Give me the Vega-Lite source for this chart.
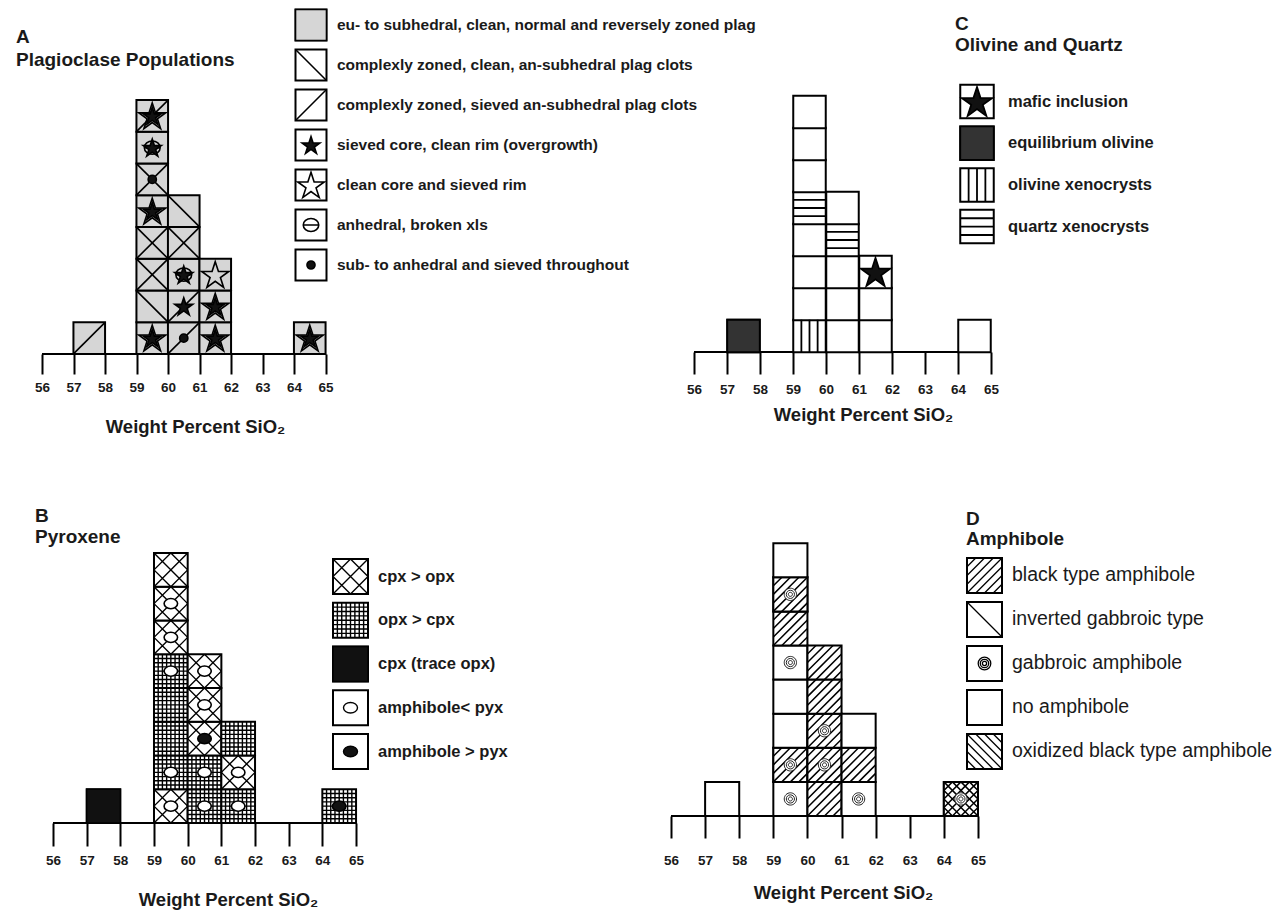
{
  "$schema": "https://vega.github.io/schema/vega-lite/v6.json",
  "background": "white",
  "padding": {"left": 16, "top": 5, "right": 5, "bottom": 5},
  "autosize": {"type": "pad"},
  "bounds": "flush",
  "columns": 2,
  "spacing": {"row": 182, "column": 307},
  "resolve": {"scale": {"shape": "independent", "fill": "independent"}},
  "config": {"view": {"stroke": null}, "font": "Liberation Sans"},
  "datasets": {
    "plag": [
      {"sio2": 57.5, "level": 1, "pop": "eu"},
      {"sio2": 59.5, "level": 1, "pop": "eu"},
      {"sio2": 59.5, "level": 2, "pop": "eu"},
      {"sio2": 59.5, "level": 3, "pop": "eu"},
      {"sio2": 59.5, "level": 4, "pop": "eu"},
      {"sio2": 59.5, "level": 5, "pop": "eu"},
      {"sio2": 59.5, "level": 6, "pop": "eu"},
      {"sio2": 59.5, "level": 7, "pop": "eu"},
      {"sio2": 59.5, "level": 8, "pop": "eu"},
      {"sio2": 60.5, "level": 1, "pop": "eu"},
      {"sio2": 60.5, "level": 2, "pop": "eu"},
      {"sio2": 60.5, "level": 3, "pop": "eu"},
      {"sio2": 60.5, "level": 4, "pop": "eu"},
      {"sio2": 60.5, "level": 5, "pop": "eu"},
      {"sio2": 61.5, "level": 1, "pop": "eu"},
      {"sio2": 61.5, "level": 2, "pop": "eu"},
      {"sio2": 61.5, "level": 3, "pop": "eu"},
      {"sio2": 64.5, "level": 1, "pop": "eu"},
      {"sio2": 57.5, "level": 1, "pop": "sieved-clot"},
      {"sio2": 59.5, "level": 1, "pop": "sieved-rim"},
      {"sio2": 59.5, "level": 1, "pop": "sieved-core"},
      {"sio2": 59.5, "level": 2, "pop": "clean-clot"},
      {"sio2": 59.5, "level": 3, "pop": "clean-clot"},
      {"sio2": 59.5, "level": 3, "pop": "sieved-clot"},
      {"sio2": 59.5, "level": 4, "pop": "clean-clot"},
      {"sio2": 59.5, "level": 4, "pop": "sieved-clot"},
      {"sio2": 59.5, "level": 5, "pop": "sieved-rim"},
      {"sio2": 59.5, "level": 5, "pop": "sieved-core"},
      {"sio2": 59.5, "level": 6, "pop": "clean-clot"},
      {"sio2": 59.5, "level": 6, "pop": "sieved-clot"},
      {"sio2": 59.5, "level": 6, "pop": "sieved-all"},
      {"sio2": 59.5, "level": 7, "pop": "broken"},
      {"sio2": 59.5, "level": 7, "pop": "sieved-core"},
      {"sio2": 59.5, "level": 8, "pop": "sieved-clot"},
      {"sio2": 59.5, "level": 8, "pop": "sieved-rim"},
      {"sio2": 59.5, "level": 8, "pop": "sieved-core"},
      {"sio2": 60.5, "level": 1, "pop": "sieved-clot"},
      {"sio2": 60.5, "level": 1, "pop": "sieved-all"},
      {"sio2": 60.5, "level": 2, "pop": "sieved-clot"},
      {"sio2": 60.5, "level": 2, "pop": "sieved-core"},
      {"sio2": 60.5, "level": 3, "pop": "broken"},
      {"sio2": 60.5, "level": 3, "pop": "sieved-core"},
      {"sio2": 60.5, "level": 4, "pop": "clean-clot"},
      {"sio2": 60.5, "level": 4, "pop": "sieved-clot"},
      {"sio2": 60.5, "level": 5, "pop": "clean-clot"},
      {"sio2": 61.5, "level": 1, "pop": "sieved-rim"},
      {"sio2": 61.5, "level": 1, "pop": "sieved-core"},
      {"sio2": 61.5, "level": 2, "pop": "sieved-rim"},
      {"sio2": 61.5, "level": 2, "pop": "sieved-core"},
      {"sio2": 61.5, "level": 3, "pop": "sieved-rim"},
      {"sio2": 64.5, "level": 1, "pop": "sieved-rim"},
      {"sio2": 64.5, "level": 1, "pop": "sieved-core"}
    ],
    "plagLegend": [
      {"i": 1, "key": "eu", "label": "eu- to subhedral, clean, normal and reversely zoned plag"},
      {"i": 2, "key": "clean-clot", "label": "complexly zoned, clean, an-subhedral plag clots"},
      {"i": 3, "key": "sieved-clot", "label": "complexly zoned, sieved an-subhedral plag clots"},
      {"i": 4, "key": "sieved-core", "label": "sieved core, clean rim (overgrowth)"},
      {"i": 5, "key": "sieved-rim", "label": "clean core and sieved rim"},
      {"i": 6, "key": "broken", "label": "anhedral, broken xls"},
      {"i": 7, "key": "sieved-all", "label": "sub- to anhedral and sieved throughout"}
    ],
    "olq": [
      {"sio2": 57.5, "level": 1, "phase": "eqol"},
      {"sio2": 59.5, "level": 1, "phase": "olxeno"},
      {"sio2": 59.5, "level": 2, "phase": "none"},
      {"sio2": 59.5, "level": 3, "phase": "none"},
      {"sio2": 59.5, "level": 4, "phase": "none"},
      {"sio2": 59.5, "level": 5, "phase": "qzxeno"},
      {"sio2": 59.5, "level": 6, "phase": "none"},
      {"sio2": 59.5, "level": 7, "phase": "none"},
      {"sio2": 59.5, "level": 8, "phase": "none"},
      {"sio2": 60.5, "level": 1, "phase": "none"},
      {"sio2": 60.5, "level": 2, "phase": "none"},
      {"sio2": 60.5, "level": 3, "phase": "none"},
      {"sio2": 60.5, "level": 4, "phase": "qzxeno"},
      {"sio2": 60.5, "level": 5, "phase": "none"},
      {"sio2": 61.5, "level": 1, "phase": "none"},
      {"sio2": 61.5, "level": 2, "phase": "none"},
      {"sio2": 61.5, "level": 3, "phase": "mafic"},
      {"sio2": 64.5, "level": 1, "phase": "none"}
    ],
    "olqLegend": [
      {"i": 1, "key": "mafic", "label": "mafic inclusion"},
      {"i": 2, "key": "eqol", "label": "equilibrium olivine"},
      {"i": 3, "key": "olxeno", "label": "olivine xenocrysts"},
      {"i": 4, "key": "qzxeno", "label": "quartz xenocrysts"}
    ],
    "pyx": [
      {"sio2": 57.5, "level": 1, "pyx": "cpx", "amph": "none"},
      {"sio2": 59.5, "level": 1, "pyx": "cpx>opx", "amph": "amph<pyx"},
      {"sio2": 59.5, "level": 2, "pyx": "opx>cpx", "amph": "amph<pyx"},
      {"sio2": 59.5, "level": 3, "pyx": "opx>cpx", "amph": "none"},
      {"sio2": 59.5, "level": 4, "pyx": "opx>cpx", "amph": "none"},
      {"sio2": 59.5, "level": 5, "pyx": "opx>cpx", "amph": "amph<pyx"},
      {"sio2": 59.5, "level": 6, "pyx": "cpx>opx", "amph": "amph<pyx"},
      {"sio2": 59.5, "level": 7, "pyx": "cpx>opx", "amph": "amph<pyx"},
      {"sio2": 59.5, "level": 8, "pyx": "cpx>opx", "amph": "none"},
      {"sio2": 60.5, "level": 1, "pyx": "opx>cpx", "amph": "amph<pyx"},
      {"sio2": 60.5, "level": 2, "pyx": "opx>cpx", "amph": "amph<pyx"},
      {"sio2": 60.5, "level": 3, "pyx": "cpx>opx", "amph": "amph>pyx"},
      {"sio2": 60.5, "level": 4, "pyx": "cpx>opx", "amph": "amph<pyx"},
      {"sio2": 60.5, "level": 5, "pyx": "cpx>opx", "amph": "amph<pyx"},
      {"sio2": 61.5, "level": 1, "pyx": "opx>cpx", "amph": "amph<pyx"},
      {"sio2": 61.5, "level": 2, "pyx": "cpx>opx", "amph": "amph<pyx"},
      {"sio2": 61.5, "level": 3, "pyx": "opx>cpx", "amph": "none"},
      {"sio2": 64.5, "level": 1, "pyx": "opx>cpx", "amph": "amph>pyx"}
    ],
    "pyxLegend": [
      {"i": 1, "key": "cpx>opx", "label": "cpx > opx"},
      {"i": 2, "key": "opx>cpx", "label": "opx > cpx"},
      {"i": 3, "key": "cpx", "label": "cpx (trace opx)"},
      {"i": 4, "key": "amph<pyx", "label": "amphibole< pyx"},
      {"i": 5, "key": "amph>pyx", "label": "amphibole > pyx"}
    ],
    "amph": [
      {"sio2": 57.5, "level": 1, "type": "none"},
      {"sio2": 59.5, "level": 1, "type": "gabbroic"},
      {"sio2": 59.5, "level": 2, "type": "black"},
      {"sio2": 59.5, "level": 2, "type": "gabbroic"},
      {"sio2": 59.5, "level": 3, "type": "none"},
      {"sio2": 59.5, "level": 4, "type": "none"},
      {"sio2": 59.5, "level": 5, "type": "gabbroic"},
      {"sio2": 59.5, "level": 6, "type": "black"},
      {"sio2": 59.5, "level": 7, "type": "black"},
      {"sio2": 59.5, "level": 7, "type": "gabbroic"},
      {"sio2": 59.5, "level": 8, "type": "none"},
      {"sio2": 60.5, "level": 1, "type": "black"},
      {"sio2": 60.5, "level": 2, "type": "black"},
      {"sio2": 60.5, "level": 2, "type": "gabbroic"},
      {"sio2": 60.5, "level": 3, "type": "black"},
      {"sio2": 60.5, "level": 3, "type": "gabbroic"},
      {"sio2": 60.5, "level": 4, "type": "black"},
      {"sio2": 60.5, "level": 5, "type": "black"},
      {"sio2": 61.5, "level": 1, "type": "gabbroic"},
      {"sio2": 61.5, "level": 2, "type": "black"},
      {"sio2": 61.5, "level": 3, "type": "none"},
      {"sio2": 64.5, "level": 1, "type": "black"},
      {"sio2": 64.5, "level": 1, "type": "oxidized"},
      {"sio2": 64.5, "level": 1, "type": "gabbroic"}
    ],
    "amphLegend": [
      {"i": 1, "key": "black", "label": "black type amphibole"},
      {"i": 2, "key": "inverted", "label": "inverted gabbroic type"},
      {"i": 3, "key": "gabbroic", "label": " gabbroic amphibole"},
      {"i": 4, "key": "none", "label": "no amphibole"},
      {"i": 5, "key": "oxidized", "label": "oxidized black type amphibole"}
    ]
  },
  "concat": [
    {
      "width": 290,
      "height": 263,
      "title": {"text": ["A", "Plagioclase Populations"], "anchor": "start", "frame": "group", "dx": -24, "offset": -83, "baseline": "bottom", "lineHeight": 23, "fontSize": 19, "font": "Liberation Sans", "fontWeight": "bold", "color": "#1a1a1a"},
      "resolve": {"scale": {"x": "independent", "y": "independent"}},
      "layer": [
        {
          "data": {"name": "plag"},
          "encoding": {
            "x": {"field": "sio2", "type": "quantitative", "scale": {"domain": [55.9365, 65.1428], "nice": false, "zero": false},
              "axis": {"values": [56, 57, 58, 59, 60, 61, 62, 63, 64, 65], "format": "d", "domain": false, "grid": false, "tickSize": 20, "tickWidth": 2, "tickColor": "black", "labelFont": "Liberation Sans", "labelFontSize": 13.5, "labelFontWeight": "bold", "labelColor": "#1a1a1a", "labelPadding": 6, "labelFlush": false, "labelOverlap": false, "title": "Weight Percent SiO₂", "titleFont": "Liberation Sans", "titleFontSize": 18.5, "titleFontWeight": "bold", "titleColor": "#1a1a1a", "titleX": 155, "titleY": 78, "titleBaseline": "alphabetic"}},
            "y": {"field": "level", "type": "quantitative", "scale": {"domain": [0.5, 8.7835], "nice": false, "zero": false}, "axis": null}
          },
          "layer": [
            {"mark": {"type": "rule", "strokeWidth": 2, "color": "black"}, "encoding": {"x": {"datum": 56}, "x2": {"datum": 65}, "y": {"datum": 0.5}}},
            {
              "transform": [{"filter": "datum.pop === 'eu'"}],
              "mark": {"type": "point", "filled": false, "opacity": 1, "stroke": "black", "strokeWidth": 2},
              "encoding": {
                "shape": {"field": "pop", "type": "nominal", "legend": null, "scale": {"domain": ["eu", "clean-clot", "sieved-clot", "sieved-core", "sieved-rim", "broken", "sieved-all"], "range": ["M-1,-1L1,-1L1,1L-1,1Z", "M-1,-1L1,1", "M-1,1L1,-1", "M0,-0.543L0.135,-0.128L0.571,-0.128L0.218,0.128L0.353,0.542L0,0.286L-0.353,0.542L-0.218,0.128L-0.571,-0.128L-0.135,-0.128Z", "M0,-0.82L0.202,-0.198L0.856,-0.198L0.327,0.186L0.529,0.808L0,0.424L-0.529,0.808L-0.327,0.186L-0.856,-0.198L-0.202,-0.198Z", "M-0.5,0A0.5,0.42 0 1,1 0.5,0A0.5,0.42 0 1,1 -0.5,0ZM-0.5,0L0.5,0", "M-0.26,0A0.26,0.26 0 1,1 0.26,0A0.26,0.26 0 1,1 -0.26,0Z"]}},
                "fill": {"field": "pop", "type": "nominal", "legend": null, "scale": {"domain": ["eu", "clean-clot", "sieved-clot", "sieved-core", "sieved-rim", "broken", "sieved-all"], "range": ["#d6d6d6", "transparent", "transparent", "#111111", "transparent", "transparent", "#111111"]}},
                "size": {"value": 1000}
              }
            },
            {
              "transform": [{"filter": "datum.pop !== 'eu'"}],
              "mark": {"type": "point", "filled": false, "opacity": 1, "stroke": "black", "strokeWidth": 1.6},
              "encoding": {
                "shape": {"field": "pop", "type": "nominal", "legend": null, "scale": {"domain": ["eu", "clean-clot", "sieved-clot", "sieved-core", "sieved-rim", "broken", "sieved-all"], "range": ["M-1,-1L1,-1L1,1L-1,1Z", "M-1,-1L1,1", "M-1,1L1,-1", "M0,-0.543L0.135,-0.128L0.571,-0.128L0.218,0.128L0.353,0.542L0,0.286L-0.353,0.542L-0.218,0.128L-0.571,-0.128L-0.135,-0.128Z", "M0,-0.82L0.202,-0.198L0.856,-0.198L0.327,0.186L0.529,0.808L0,0.424L-0.529,0.808L-0.327,0.186L-0.856,-0.198L-0.202,-0.198Z", "M-0.5,0A0.5,0.42 0 1,1 0.5,0A0.5,0.42 0 1,1 -0.5,0ZM-0.5,0L0.5,0", "M-0.26,0A0.26,0.26 0 1,1 0.26,0A0.26,0.26 0 1,1 -0.26,0Z"]}},
                "fill": {"field": "pop", "type": "nominal", "legend": null, "scale": {"domain": ["eu", "clean-clot", "sieved-clot", "sieved-core", "sieved-rim", "broken", "sieved-all"], "range": ["#d6d6d6", "transparent", "transparent", "#111111", "transparent", "transparent", "#111111"]}},
                "size": {"value": 1000}
              }
            }
          ]
        },
        {
          "data": {"name": "plagLegend"},
          "encoding": {
            "x": {"datum": 0, "type": "quantitative", "scale": {"domain": [-271, 19], "nice": false, "zero": false}, "axis": null},
            "y": {"field": "i", "type": "quantitative", "scale": {"domain": [2.65, 9.225], "reverse": true, "nice": false, "zero": false}, "axis": null}
          },
          "layer": [
            {"mark": {"type": "point", "shape": "square", "filled": false, "fill": "white", "stroke": "black", "strokeWidth": 2, "opacity": 1, "size": 961}},
            {
              "mark": {"type": "point", "filled": false, "opacity": 1, "stroke": "black", "strokeWidth": 1.6},
              "encoding": {
                "shape": {"field": "key", "type": "nominal", "legend": null, "scale": {"domain": ["eu", "clean-clot", "sieved-clot", "sieved-core", "sieved-rim", "broken", "sieved-all"], "range": ["M-1,-1L1,-1L1,1L-1,1Z", "M-1,-1L1,1", "M-1,1L1,-1", "M0,-0.543L0.135,-0.128L0.571,-0.128L0.218,0.128L0.353,0.542L0,0.286L-0.353,0.542L-0.218,0.128L-0.571,-0.128L-0.135,-0.128Z", "M0,-0.82L0.202,-0.198L0.856,-0.198L0.327,0.186L0.529,0.808L0,0.424L-0.529,0.808L-0.327,0.186L-0.856,-0.198L-0.202,-0.198Z", "M-0.5,0A0.5,0.42 0 1,1 0.5,0A0.5,0.42 0 1,1 -0.5,0ZM-0.5,0L0.5,0", "M-0.26,0A0.26,0.26 0 1,1 0.26,0A0.26,0.26 0 1,1 -0.26,0Z"]}},
                "fill": {"field": "key", "type": "nominal", "legend": null, "scale": {"domain": ["eu", "clean-clot", "sieved-clot", "sieved-core", "sieved-rim", "broken", "sieved-all"], "range": ["#d6d6d6", "transparent", "transparent", "#111111", "transparent", "transparent", "#111111"]}},
                "size": {"value": 961}
              }
            },
            {"mark": {"type": "text", "align": "left", "baseline": "middle", "dx": 26, "font": "Liberation Sans", "fontSize": 15.5, "fontWeight": "bold", "color": "#1a1a1a"}, "encoding": {"text": {"field": "label"}}}
          ]
        }
      ]
    },
    {
      "width": 330,
      "height": 261,
      "title": {"text": ["C", "Olivine and Quartz"], "anchor": "start", "frame": "group", "dx": 288, "offset": 7, "baseline": "bottom", "lineHeight": 21, "fontSize": 19, "font": "Liberation Sans", "fontWeight": "bold", "color": "#1a1a1a"},
      "resolve": {"scale": {"x": "independent", "y": "independent"}},
      "layer": [
        {
          "data": {"name": "olq"},
          "encoding": {
            "x": {"field": "sio2", "type": "quantitative", "scale": {"domain": [55.1818, 65.1818], "nice": false, "zero": false},
              "axis": {"values": [56, 57, 58, 59, 60, 61, 62, 63, 64, 65], "format": "d", "domain": false, "grid": false, "tickSize": 22, "tickWidth": 2, "tickColor": "black", "labelFont": "Liberation Sans", "labelFontSize": 13.5, "labelFontWeight": "bold", "labelColor": "#1a1a1a", "labelPadding": 8, "labelFlush": false, "labelOverlap": false, "title": "Weight Percent SiO₂", "titleFont": "Liberation Sans", "titleFontSize": 18.5, "titleFontWeight": "bold", "titleColor": "#1a1a1a", "titleX": 196, "titleY": 68, "titleBaseline": "alphabetic"}},
            "y": {"field": "level", "type": "quantitative", "scale": {"domain": [0.5, 8.65625], "nice": false, "zero": false}, "axis": null}
          },
          "layer": [
            {"mark": {"type": "rule", "strokeWidth": 2, "color": "black"}, "encoding": {"x": {"datum": 56}, "x2": {"datum": 65}, "y": {"datum": 0.5}}},
            {"mark": {"type": "point", "shape": "square", "filled": false, "fill": "white", "stroke": "black", "strokeWidth": 2, "opacity": 1, "size": 1056}},
            {
              "transform": [{"filter": "datum.phase !== 'none'"}],
              "mark": {"type": "point", "filled": false, "opacity": 1, "stroke": "black", "strokeWidth": 1.8},
              "encoding": {
                "shape": {"field": "phase", "type": "nominal", "legend": null, "scale": {"domain": ["mafic", "eqol", "olxeno", "qzxeno"], "range": ["M0,-0.86L0.213,-0.204L0.904,-0.204L0.345,0.202L0.558,0.859L0,0.453L-0.558,0.859L-0.345,0.202L-0.904,-0.204L-0.213,-0.204Z", "M-1,-1L1,-1L1,1L-1,1Z", "M-0.5,-1L-0.5,1M0,-1L0,1M0.5,-1L0.5,1", "M-1,-0.5L1,-0.5M-1,0L1,0M-1,0.5L1,0.5"]}},
                "fill": {"field": "phase", "type": "nominal", "legend": null, "scale": {"domain": ["mafic", "eqol", "olxeno", "qzxeno"], "range": ["#111111", "#333333", "transparent", "transparent"]}},
                "size": {"value": 1056}
              }
            }
          ]
        },
        {
          "data": {"name": "olqLegend"},
          "encoding": {
            "x": {"datum": 0, "type": "quantitative", "scale": {"domain": [-310, 20], "nice": false, "zero": false}, "axis": null},
            "y": {"field": "i", "type": "quantitative", "scale": {"domain": [0.748, 7.007], "reverse": true, "nice": false, "zero": false}, "axis": null}
          },
          "layer": [
            {"mark": {"type": "point", "shape": "square", "filled": false, "fill": "white", "stroke": "black", "strokeWidth": 2, "opacity": 1, "size": 1122}},
            {
              "mark": {"type": "point", "filled": false, "opacity": 1, "stroke": "black", "strokeWidth": 1.8},
              "encoding": {
                "shape": {"field": "key", "type": "nominal", "legend": null, "scale": {"domain": ["mafic", "eqol", "olxeno", "qzxeno"], "range": ["M0,-0.86L0.213,-0.204L0.904,-0.204L0.345,0.202L0.558,0.859L0,0.453L-0.558,0.859L-0.345,0.202L-0.904,-0.204L-0.213,-0.204Z", "M-1,-1L1,-1L1,1L-1,1Z", "M-0.5,-1L-0.5,1M0,-1L0,1M0.5,-1L0.5,1", "M-1,-0.5L1,-0.5M-1,0L1,0M-1,0.5L1,0.5"]}},
                "fill": {"field": "key", "type": "nominal", "legend": null, "scale": {"domain": ["mafic", "eqol", "olxeno", "qzxeno"], "range": ["#111111", "#333333", "transparent", "transparent"]}},
                "size": {"value": 1122}
              }
            },
            {"mark": {"type": "text", "align": "left", "baseline": "middle", "dx": 31, "font": "Liberation Sans", "fontSize": 16.5, "fontWeight": "bold", "color": "#1a1a1a"}, "encoding": {"text": {"field": "label"}}}
          ]
        }
      ]
    },
    {
      "width": 320,
      "height": 287,
      "title": {"text": ["B", "Pyroxene"], "anchor": "start", "frame": "group", "dx": -5, "offset": -29.5, "baseline": "bottom", "lineHeight": 21, "fontSize": 19, "font": "Liberation Sans", "fontWeight": "bold", "color": "#1a1a1a"},
      "resolve": {"scale": {"x": "independent", "y": "independent"}},
      "layer": [
        {
          "data": {"name": "pyx"},
          "encoding": {
            "x": {"field": "sio2", "type": "quantitative", "scale": {"domain": [55.6139, 65.1179], "nice": false, "zero": false},
              "axis": {"values": [56, 57, 58, 59, 60, 61, 62, 63, 64, 65], "format": "d", "domain": false, "grid": false, "tickSize": 23, "tickWidth": 2, "tickColor": "black", "labelFont": "Liberation Sans", "labelFontSize": 13.5, "labelFontWeight": "bold", "labelColor": "#1a1a1a", "labelPadding": 7, "labelFlush": false, "labelOverlap": false, "title": "Weight Percent SiO₂", "titleFont": "Liberation Sans", "titleFontSize": 18.5, "titleFontWeight": "bold", "titleColor": "#1a1a1a", "titleX": 188, "titleY": 82, "titleBaseline": "alphabetic"}},
            "y": {"field": "level", "type": "quantitative", "scale": {"domain": [0.5, 9.0037], "nice": false, "zero": false}, "axis": null}
          },
          "layer": [
            {"mark": {"type": "rule", "strokeWidth": 2, "color": "black"}, "encoding": {"x": {"datum": 56}, "x2": {"datum": 65}, "y": {"datum": 0.5}}},
            {"mark": {"type": "point", "shape": "square", "filled": false, "fill": "white", "stroke": "black", "strokeWidth": 2, "opacity": 1, "size": 1136}},
            {
              "mark": {"type": "point", "filled": false, "opacity": 1, "stroke": "black", "strokeWidth": 1.4},
              "encoding": {
                "shape": {"field": "pyx", "type": "nominal", "legend": null, "scale": {"domain": ["cpx>opx", "opx>cpx", "cpx", "amph<pyx", "amph>pyx"], "range": ["M-1,-1L1,1M-1,0L0,1M0,-1L1,0M-1,1L1,-1M-1,0L0,-1M0,1L1,0", "M-0.75,-1L-0.75,1M-0.5,-1L-0.5,1M-0.25,-1L-0.25,1M0,-1L0,1M0.25,-1L0.25,1M0.5,-1L0.5,1M0.75,-1L0.75,1M-1,-0.75L1,-0.75M-1,-0.5L1,-0.5M-1,-0.25L1,-0.25M-1,0L1,0M-1,0.25L1,0.25M-1,0.5L1,0.5M-1,0.75L1,0.75", "M-1,-1L1,-1L1,1L-1,1Z", "M-0.4,0A0.4,0.3 0 1,1 0.4,0A0.4,0.3 0 1,1 -0.4,0Z", "M-0.4,0A0.4,0.3 0 1,1 0.4,0A0.4,0.3 0 1,1 -0.4,0Z"]}},
                "fill": {"field": "pyx", "type": "nominal", "legend": null, "scale": {"domain": ["cpx>opx", "opx>cpx", "cpx", "amph<pyx", "amph>pyx"], "range": ["transparent", "transparent", "#111111", "white", "#111111"]}},
                "size": {"value": 1136}
              }
            },
            {
              "transform": [{"filter": "datum.amph !== 'none'"}],
              "mark": {"type": "point", "filled": false, "opacity": 1, "stroke": "black", "strokeWidth": 1.6},
              "encoding": {
                "shape": {"field": "amph", "type": "nominal", "legend": null, "scale": {"domain": ["cpx>opx", "opx>cpx", "cpx", "amph<pyx", "amph>pyx"], "range": ["M-1,-1L1,1M-1,0L0,1M0,-1L1,0M-1,1L1,-1M-1,0L0,-1M0,1L1,0", "M-0.75,-1L-0.75,1M-0.5,-1L-0.5,1M-0.25,-1L-0.25,1M0,-1L0,1M0.25,-1L0.25,1M0.5,-1L0.5,1M0.75,-1L0.75,1M-1,-0.75L1,-0.75M-1,-0.5L1,-0.5M-1,-0.25L1,-0.25M-1,0L1,0M-1,0.25L1,0.25M-1,0.5L1,0.5M-1,0.75L1,0.75", "M-1,-1L1,-1L1,1L-1,1Z", "M-0.4,0A0.4,0.3 0 1,1 0.4,0A0.4,0.3 0 1,1 -0.4,0Z", "M-0.4,0A0.4,0.3 0 1,1 0.4,0A0.4,0.3 0 1,1 -0.4,0Z"]}},
                "fill": {"field": "amph", "type": "nominal", "legend": null, "scale": {"domain": ["cpx>opx", "opx>cpx", "cpx", "amph<pyx", "amph>pyx"], "range": ["transparent", "transparent", "#111111", "white", "#111111"]}},
                "size": {"value": 1136}
              }
            }
          ]
        },
        {
          "data": {"name": "pyxLegend"},
          "encoding": {
            "x": {"datum": 0, "type": "quantitative", "scale": {"domain": [-310.5, 9.5], "nice": false, "zero": false}, "axis": null},
            "y": {"field": "i", "type": "quantitative", "scale": {"domain": [0.0743, 6.634], "reverse": true, "nice": false, "zero": false}, "axis": null}
          },
          "layer": [
            {"mark": {"type": "point", "shape": "square", "filled": false, "fill": "white", "stroke": "black", "strokeWidth": 2, "opacity": 1, "size": 1225}},
            {
              "mark": {"type": "point", "filled": false, "opacity": 1, "stroke": "black", "strokeWidth": 1.4},
              "encoding": {
                "shape": {"field": "key", "type": "nominal", "legend": null, "scale": {"domain": ["cpx>opx", "opx>cpx", "cpx", "amph<pyx", "amph>pyx"], "range": ["M-1,-1L1,1M-1,0L0,1M0,-1L1,0M-1,1L1,-1M-1,0L0,-1M0,1L1,0", "M-0.75,-1L-0.75,1M-0.5,-1L-0.5,1M-0.25,-1L-0.25,1M0,-1L0,1M0.25,-1L0.25,1M0.5,-1L0.5,1M0.75,-1L0.75,1M-1,-0.75L1,-0.75M-1,-0.5L1,-0.5M-1,-0.25L1,-0.25M-1,0L1,0M-1,0.25L1,0.25M-1,0.5L1,0.5M-1,0.75L1,0.75", "M-1,-1L1,-1L1,1L-1,1Z", "M-0.4,0A0.4,0.3 0 1,1 0.4,0A0.4,0.3 0 1,1 -0.4,0Z", "M-0.4,0A0.4,0.3 0 1,1 0.4,0A0.4,0.3 0 1,1 -0.4,0Z"]}},
                "fill": {"field": "key", "type": "nominal", "legend": null, "scale": {"domain": ["cpx>opx", "opx>cpx", "cpx", "amph<pyx", "amph>pyx"], "range": ["transparent", "transparent", "#111111", "white", "#111111"]}},
                "size": {"value": 1225}
              }
            },
            {"mark": {"type": "text", "align": "left", "baseline": "middle", "dx": 27.5, "font": "Liberation Sans", "fontSize": 16.5, "fontWeight": "bold", "color": "#1a1a1a"}, "encoding": {"text": {"field": "label"}}}
          ]
        }
      ]
    },
    {
      "width": 315,
      "height": 280,
      "title": {"text": ["D", "Amphibole"], "anchor": "start", "frame": "group", "dx": 299, "offset": -31.5, "baseline": "bottom", "lineHeight": 20, "fontSize": 19, "font": "Liberation Sans", "fontWeight": "bold", "color": "#1a1a1a"},
      "resolve": {"scale": {"x": "independent", "y": "independent"}},
      "layer": [
        {
          "data": {"name": "amph"},
          "encoding": {
            "x": {"field": "sio2", "type": "quantitative", "scale": {"domain": [55.8827, 65.1175], "nice": false, "zero": false},
              "axis": {"values": [56, 57, 58, 59, 60, 61, 62, 63, 64, 65], "format": "d", "domain": false, "grid": false, "tickSize": 22, "tickWidth": 2, "tickColor": "black", "labelFont": "Liberation Sans", "labelFontSize": 13.5, "labelFontWeight": "bold", "labelColor": "#1a1a1a", "labelPadding": 15, "labelFlush": false, "labelOverlap": false, "title": "Weight Percent SiO₂", "titleFont": "Liberation Sans", "titleFontSize": 18.5, "titleFontWeight": "bold", "titleColor": "#1a1a1a", "titleX": 176, "titleY": 82, "titleBaseline": "alphabetic"}},
            "y": {"field": "level", "type": "quantitative", "scale": {"domain": [0.5, 8.7111], "nice": false, "zero": false}, "axis": null}
          },
          "layer": [
            {"mark": {"type": "rule", "strokeWidth": 2, "color": "black"}, "encoding": {"x": {"datum": 56}, "x2": {"datum": 65}, "y": {"datum": 0.5}}},
            {"mark": {"type": "point", "shape": "square", "filled": false, "fill": "white", "stroke": "black", "strokeWidth": 2, "opacity": 1, "size": 1163}},
            {
              "transform": [{"filter": "datum.type !== 'none' && datum.type !== 'gabbroic'"}],
              "mark": {"type": "point", "filled": false, "opacity": 1, "stroke": "black", "strokeWidth": 1.5},
              "encoding": {
                "shape": {"field": "type", "type": "nominal", "legend": null, "scale": {"domain": ["black", "inverted", "gabbroic", "oxidized"], "range": ["M-1,-0.5L-0.5,-1M-1,0L0,-1M-1,0.5L0.5,-1M-1,1L1,-1M-0.5,1L1,-0.5M0,1L1,0M0.5,1L1,0.5", "M-1,-1L1,1", "M-0.36,0A0.36,0.36 0 1,1 0.36,0A0.36,0.36 0 1,1 -0.36,0ZM-0.24,0A0.24,0.24 0 1,1 0.24,0A0.24,0.24 0 1,1 -0.24,0ZM-0.12,0A0.12,0.12 0 1,1 0.12,0A0.12,0.12 0 1,1 -0.12,0Z", "M-1,-1L1,1M-1,-0.5L0.5,1M-1,0L0,1M-1,0.5L-0.5,1M-0.5,-1L1,0.5M0,-1L1,0M0.5,-1L1,-0.5"]}},
                "fill": {"field": "type", "type": "nominal", "legend": null, "scale": {"domain": ["black", "inverted", "gabbroic", "oxidized"], "range": ["transparent", "transparent", "white", "transparent"]}},
                "size": {"value": 1163}
              }
            },
            {
              "transform": [{"filter": "datum.type === 'gabbroic'"}],
              "mark": {"type": "point", "filled": false, "opacity": 1, "stroke": "#222222", "strokeWidth": 1},
              "encoding": {
                "shape": {"field": "type", "type": "nominal", "legend": null, "scale": {"domain": ["black", "inverted", "gabbroic", "oxidized"], "range": ["M-1,-0.5L-0.5,-1M-1,0L0,-1M-1,0.5L0.5,-1M-1,1L1,-1M-0.5,1L1,-0.5M0,1L1,0M0.5,1L1,0.5", "M-1,-1L1,1", "M-0.36,0A0.36,0.36 0 1,1 0.36,0A0.36,0.36 0 1,1 -0.36,0ZM-0.24,0A0.24,0.24 0 1,1 0.24,0A0.24,0.24 0 1,1 -0.24,0ZM-0.12,0A0.12,0.12 0 1,1 0.12,0A0.12,0.12 0 1,1 -0.12,0Z", "M-1,-1L1,1M-1,-0.5L0.5,1M-1,0L0,1M-1,0.5L-0.5,1M-0.5,-1L1,0.5M0,-1L1,0M0.5,-1L1,-0.5"]}},
                "fill": {"field": "type", "type": "nominal", "legend": null, "scale": {"domain": ["black", "inverted", "gabbroic", "oxidized"], "range": ["transparent", "transparent", "white", "transparent"]}},
                "size": {"value": 1163}
              }
            }
          ]
        },
        {
          "data": {"name": "amphLegend"},
          "encoding": {
            "x": {"datum": 0, "type": "quantitative", "scale": {"domain": [-317.5, -2.5], "nice": false, "zero": false}, "axis": null},
            "y": {"field": "i", "type": "quantitative", "scale": {"domain": [0.1023, 6.466], "reverse": true, "nice": false, "zero": false}, "axis": null}
          },
          "layer": [
            {"mark": {"type": "point", "shape": "square", "filled": false, "fill": "white", "stroke": "black", "strokeWidth": 2, "opacity": 1, "size": 1225}},
            {
              "transform": [{"filter": "datum.key !== 'none'"}],
              "mark": {"type": "point", "filled": false, "opacity": 1, "stroke": "black", "strokeWidth": 1.3},
              "encoding": {
                "shape": {"field": "key", "type": "nominal", "legend": null, "scale": {"domain": ["black", "inverted", "gabbroic", "oxidized"], "range": ["M-1,-0.5L-0.5,-1M-1,0L0,-1M-1,0.5L0.5,-1M-1,1L1,-1M-0.5,1L1,-0.5M0,1L1,0M0.5,1L1,0.5", "M-1,-1L1,1", "M-0.36,0A0.36,0.36 0 1,1 0.36,0A0.36,0.36 0 1,1 -0.36,0ZM-0.24,0A0.24,0.24 0 1,1 0.24,0A0.24,0.24 0 1,1 -0.24,0ZM-0.12,0A0.12,0.12 0 1,1 0.12,0A0.12,0.12 0 1,1 -0.12,0Z", "M-1,-1L1,1M-1,-0.5L0.5,1M-1,0L0,1M-1,0.5L-0.5,1M-0.5,-1L1,0.5M0,-1L1,0M0.5,-1L1,-0.5"]}},
                "fill": {"field": "key", "type": "nominal", "legend": null, "scale": {"domain": ["black", "inverted", "gabbroic", "oxidized"], "range": ["transparent", "transparent", "white", "transparent"]}},
                "size": {"value": 1225}
              }
            },
            {"mark": {"type": "text", "align": "left", "baseline": "middle", "dx": 27.5, "font": "Liberation Sans", "fontSize": 19.5, "fontWeight": "normal", "color": "#1a1a1a"}, "encoding": {"text": {"field": "label"}}}
          ]
        }
      ]
    }
  ]
}
